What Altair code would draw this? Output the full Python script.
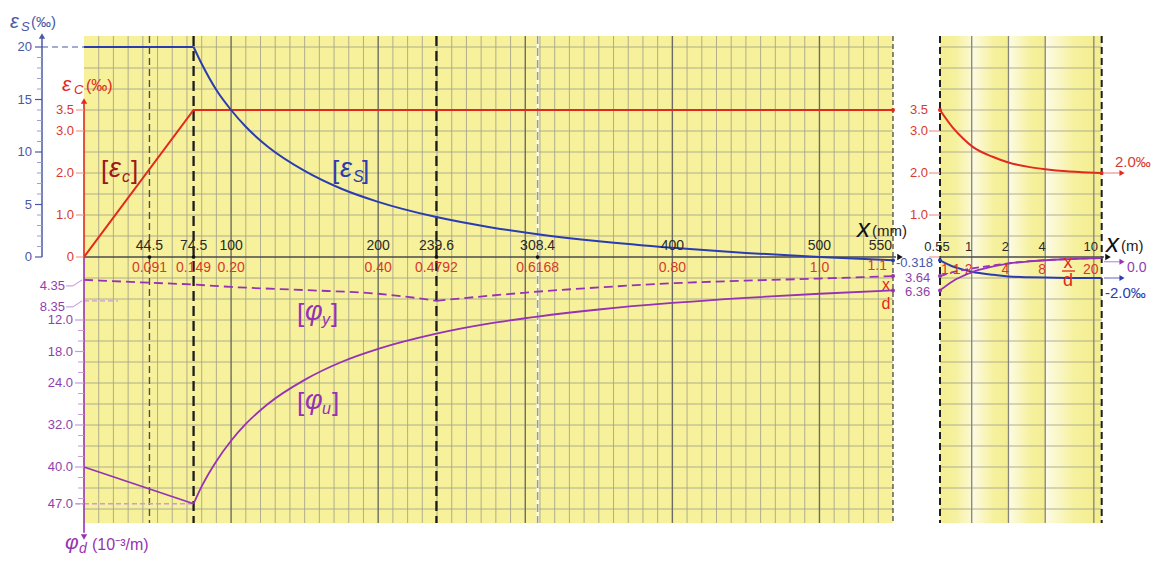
import altair as alt
import pandas as pd

# ---------------- values ----------------
# Left panel (x in mm)
ec_x = [0, 74.5, 550]
ec_v = [0.0, 3.5, 3.5]

es_x_flat = [0, 74.5]
es_v_flat = [20.0, 20.0]
es_x = [74.5, 80, 90, 100, 110, 125, 150, 175, 200, 239.6, 275, 308.4, 350, 400, 450, 500, 550]
es_v = [20.0, 18.4, 15.9, 14.0, 12.4, 10.5, 8.2, 6.5, 5.25, 3.8, 2.86, 2.17, 1.5, 0.88, 0.39, 0.0, -0.318]

phiu_x_lin = [0, 74.5]
phiu_v_lin = [40.0, 47.0]
phiu_x = [74.5, 80, 90, 100, 110, 125, 150, 175, 200, 239.6, 275, 308.4, 350, 400, 450, 500, 550]
phiu_v = [47.0, 43.7, 38.9, 35.0, 31.8, 28.0, 23.4, 20.0, 17.5, 14.6, 12.7, 11.35, 10.0, 8.75, 7.78, 7.0, 6.36]

phiy_x_a = [0, 44.5, 74.5, 100, 150, 200, 220, 239.6]
phiy_v_a = [4.35, 4.9, 5.25, 5.7, 6.3, 7.0, 7.6, 8.35]
phiy_x_b = [239.6, 275, 308.4, 350, 400, 450, 500, 550]
phiy_v_b = [8.35, 7.4, 6.6, 5.8, 5.0, 4.5, 4.1, 3.64]

# Right panel (x in m, logarithmic)
m_x = [0.55, 0.7, 0.85, 1.0, 1.5, 2.0, 3.0, 4.0, 6.0, 8.0, 11.6]
ec_m = [3.5, 3.08, 2.82, 2.64, 2.38, 2.25, 2.14, 2.09, 2.04, 2.02, 2.0]
es_m = [-0.318, -0.9, -1.2, -1.4, -1.7, -1.85, -1.93, -1.96, -1.99, -2.0, -2.0]
phiy_m = [3.64, 2.9, 2.5, 2.2, 1.6, 1.2, 0.8, 0.6, 0.4, 0.3, 0.2]
phiu_m = [6.36, 4.6, 3.6, 2.9, 1.8, 1.25, 0.85, 0.62, 0.42, 0.32, 0.2]

# tick values and labels
x_mm_ticks = [44.5, 74.5, 100, 200, 239.6, 308.4, 400, 500]
x_mm_lbl = ["44.5", "74.5", "100", "200", "239.6", "308.4", "400", "500"]
xd_mm_lbl = ["0.091", "0.149", "0.20", "0.40", "0.4792", "0.6168", "0.80", "1.0"]
x_mm_end = [550]
x_mm_end_lbl = ["550"]
xd_mm_end_lbl = ["1.1"]
marked_x = [44.5, 74.5, 239.6, 308.4]
x_m_ticks = [0.55, 1, 2, 4, 10]
x_m_lbl = ["0.55", "1", "2", "4", "10"]
xd_m_first = [0.55]
xd_m_first_lbl = ["1.1"]
xd_m_ticks = [1, 2, 4, 10]
xd_m_lbl = ["2", "4", "8", "20"]

es_major = [0, 5, 10, 15, 20]
es_major_lbl = ["0", "5", "10", "15", "20"]
es_minor = [1, 2, 3, 4, 6, 7, 8, 9, 11, 12, 13, 14, 16, 17, 18, 19]
ec_major = [0, 1.0, 2.0, 3.0, 3.5]
ec_major_lbl = ["0", "1.0", "2.0", "3.0", "3.5"]
ec_right = [1.0, 2.0, 3.0, 3.5]
ec_right_lbl = ["1.0", "2.0", "3.0", "3.5"]
phi_major = [12, 18, 24, 32, 40, 47]
phi_major_lbl = ["12.0", "18.0", "24.0", "32.0", "40.0", "47.0"]
phi_minor = [14, 16, 20, 22, 26, 28, 30, 34, 36, 38, 42, 44, 46]
phi_special = [4.35, 8.35]
phi_special_lbl = ["4.35", "8.35"]

grid_mm_minor = [v for v in range(10, 550, 10) if v % 100 != 0]
grid_mm_major = [100, 200, 300, 400, 500]
grid_m = [1, 2, 4, 10]
grid_ec = [-6.0, -5.5, -5.0, -4.5, -4.0, -3.5, -3.0, -2.5, -2.0, -1.5, -1.0, -0.5,
           0.5, 1.0, 1.5, 2.0, 2.5, 3.0, 3.5, 4.0, 4.5, 5.0]

# ---------------- layout ----------------
W, H = 809, 487
OX, OY = 84, 36          # plot origin on the page
ZERO = 221               # px from plot top to the x axis
K = 42.0                 # px per 1 permil of eps_c
EC_TOP, EC_BOT = ZERO / K, -(H - ZERO) / K
FONT = "Liberation Sans"

YEL = "#f6f19a"
GRID = "#a3a28c"
GRID_D = "#6c6c64"
RED = "#e2291d"
RED_L = "#d8392e"
RED_P = "#f09a90"
BLUE = "#2b3cb0"
BLUE_L = "#4a58a8"
PURP = "#9632b4"
PURP_L = "#8f3fae"
PURP_P = "#c99bd9"
DRED = "#a1161c"

sx_mm = alt.Scale(domain=[0, 550], nice=False, zero=False)
sx_m = alt.Scale(type="log", domain=[0.55, 11.6], range=[856, 1017.7], nice=False)
sy_ec = alt.Scale(domain=[EC_BOT, EC_TOP], nice=False, zero=False)
sy_es = alt.Scale(domain=[4 * EC_BOT, 4 * EC_TOP], nice=False, zero=False)
sy_phi = alt.Scale(domain=[-8 * EC_TOP, -8 * EC_BOT], reverse=True, nice=False, zero=False)

ONE = pd.DataFrame({"a": [0]})


def px(x):
    return x - OX


def py(y):
    return y - OY


def X(field, sc):
    return alt.X(field, type="quantitative", scale=sc, axis=None)


def Y(field, sc):
    return alt.Y(field, type="quantitative", scale=sc, axis=None)


def curve(xs, vs, xsc, ysc, color, width=1.8, dash=None, interp="linear"):
    df = pd.DataFrame({"x": xs, "v": vs})
    kw = dict(color=color, strokeWidth=width, interpolate=interp)
    if dash:
        kw["strokeDash"] = dash
    return alt.Chart(df).mark_line(**kw).encode(x=X("x", xsc), y=Y("v", ysc))


def dots(xs, vs, xsc, ysc, color, size=16):
    df = pd.DataFrame({"x": xs, "v": vs})
    return alt.Chart(df).mark_circle(color=color, size=size, opacity=1).encode(x=X("x", xsc), y=Y("v", ysc))


def vlines(vals, xsc, color, width=1.0, dash=None, y1=36, y2=523, opacity=1.0):
    kw = dict(color=color, strokeWidth=width, opacity=opacity)
    if dash:
        kw["strokeDash"] = dash
    return alt.Chart(pd.DataFrame({"v": vals})).mark_rule(**kw).encode(
        x=X("v", xsc), y=alt.value(py(y1)), y2=alt.value(py(y2)))


def hlines(vals, ysc, x1, x2, color, width=1.0, dash=None, opacity=1.0):
    kw = dict(color=color, strokeWidth=width, opacity=opacity)
    if dash:
        kw["strokeDash"] = dash
    return alt.Chart(pd.DataFrame({"v": vals})).mark_rule(**kw).encode(
        y=Y("v", ysc), x=alt.value(px(x1)), x2=alt.value(px(x2)))


def ylabels(vals, texts, ysc, x, color, size=13, align="right", dy=0, dx=0):
    df = pd.DataFrame({"v": vals, "t": texts})
    return alt.Chart(df).mark_text(align=align, baseline="middle", dy=dy, dx=dx, font=FONT,
                                   fontSize=size, color=color).encode(
        y=Y("v", ysc), x=alt.value(px(x)), text="t:N")


def xlabels(vals, texts, xsc, y, color, size=14, align="center", dx=0):
    df = pd.DataFrame({"v": vals, "t": texts})
    return alt.Chart(df).mark_text(align=align, baseline="middle", dx=dx, font=FONT,
                                   fontSize=size, color=color).encode(
        x=X("v", xsc), y=alt.value(py(y)), text="t:N")


def label(text, x, y, size=13, color="#222", italic=False, align="left", baseline="alphabetic"):
    return alt.Chart(ONE).mark_text(text=text, fontSize=size, color=color, font=FONT,
                                    fontStyle="italic" if italic else "normal",
                                    align=align, baseline=baseline).encode(
        x=alt.value(px(x)), y=alt.value(py(y)))


def seg(x1, y1, x2, y2, color, width=1.0, dash=None):
    kw = dict(color=color, strokeWidth=width)
    if dash:
        kw["strokeDash"] = dash
    return alt.Chart(ONE).mark_rule(**kw).encode(
        x=alt.value(px(x1)), y=alt.value(py(y1)), x2=alt.value(px(x2)), y2=alt.value(py(y2)))


def head(x, y, shape, color, size=45):
    return alt.Chart(ONE).mark_point(shape=shape, filled=True, color=color, size=size, opacity=1).encode(
        x=alt.value(px(x)), y=alt.value(py(y)))


def harrow(val, ysc, x1, x2, line_color, head_color):
    df = pd.DataFrame({"v": [val]})
    r = alt.Chart(df).mark_rule(color=line_color, strokeWidth=1.3).encode(
        y=Y("v", ysc), x=alt.value(px(x1)), x2=alt.value(px(x2)))
    h = alt.Chart(df).mark_point(shape="triangle-right", filled=True, color=head_color, size=35,
                                 opacity=1).encode(y=Y("v", ysc), x=alt.value(px(x2)))
    return [r, h]


L = []
# ---- backgrounds ----
L.append(alt.Chart(ONE).mark_rect(color=YEL).encode(
    x=alt.value(0), x2=alt.value(W), y=alt.value(0), y2=alt.value(H)))
grad_a = alt.LinearGradient(gradient="linear", x1=0, x2=1, y1=0, y2=0, stops=[
    alt.GradientStop(color="#f4ee92", offset=0), alt.GradientStop(color="#f6f19f", offset=0.5),
    alt.GradientStop(color="#fbf8d2", offset=1)])
grad_b = alt.LinearGradient(gradient="linear", x1=0, x2=1, y1=0, y2=0, stops=[
    alt.GradientStop(color="#fdfbe6", offset=0), alt.GradientStop(color="#f6f19e", offset=0.6),
    alt.GradientStop(color="#f4ee92", offset=1)])
L.append(alt.Chart(pd.DataFrame({"a": [0.55], "b": [1]})).mark_rect(fill=grad_a).encode(
    x=X("a", sx_m), x2="b:Q", y=alt.value(0), y2=alt.value(H)))
L.append(alt.Chart(pd.DataFrame({"a": [1, 2, 4], "b": [2, 4, 10]})).mark_rect(fill=grad_b).encode(
    x=X("a", sx_m), x2="b:Q", y=alt.value(0), y2=alt.value(H)))
L.append(alt.Chart(pd.DataFrame({"a": [10], "b": [11.6]})).mark_rect(color="#f4ee92").encode(
    x=X("a", sx_m), x2="b:Q", y=alt.value(0), y2=alt.value(H)))

# ---- grid ----
L.append(vlines(grid_mm_minor, sx_mm, GRID, 1.0, opacity=0.85))
L.append(hlines(grid_ec, sy_ec, 84, 893, GRID, 1.0, opacity=0.85))
L.append(hlines(grid_ec, sy_ec, 940, 1101.7, GRID, 1.0, opacity=0.85))
L.append(vlines(grid_mm_major, sx_mm, GRID_D, 1.4))
L.append(vlines(grid_m, sx_m, "#85857a", 1.3))

# ---- special vertical dashed lines ----
L.append(vlines([44.5], sx_mm, "#4e4e4e", 1.4, [7, 4]))
L.append(vlines([308.4], sx_mm, "#ffffff", 2.0))
L.append(vlines([308.4], sx_mm, "#9a9a94", 1.5, [8, 4]))
L.append(vlines([74.5, 239.6], sx_mm, "#1c1c1c", 2.3, [10, 5]))
L.append(vlines([550], sx_mm, "#4a4a4a", 1.3, [5, 3]))
L.append(vlines([0.55, 11.6], sx_m, "#1f1f1f", 2.0, [7, 4]))

# ---- x axes ----
L.append(seg(84, 257, 896, 257, "#4a4a4a", 1.6))
L.append(head(900, 257, "triangle-right", "#111", 40))
L.append(seg(940, 257, 1104, 257, "#4a4a4a", 1.6))
L.append(head(1108, 257, "triangle-right", "#111", 40))
L.append(dots(marked_x, [0, 0, 0, 0], sx_mm, sy_ec, "#111", 14))

# ---- left-axis leader lines ----
L.append(hlines([20], sy_es, 42, 84, BLUE_L, 1.2, [6, 4]))
L.append(hlines([8.35], sy_phi, 84, 118, PURP_P, 1.3, [5, 3]))
L.append(alt.Chart(pd.DataFrame({"v": [47.0], "x": [0.0], "x2": [74.5]})).mark_rule(
    color=PURP_P, strokeWidth=1.3, strokeDash=[5, 3]).encode(
    y=Y("v", sy_phi), x=X("x", sx_mm), x2="x2:Q"))
L.append(hlines([47.0], sy_phi, 76, 84, PURP_P, 1.3, [4, 2]))

# ---- curves, left panel ----
L.append(curve(ec_x, ec_v, sx_mm, sy_ec, RED, 2.0))
L.append(curve(es_x_flat, es_v_flat, sx_mm, sy_es, BLUE, 2.0))
L.append(curve(es_x, es_v, sx_mm, sy_es, BLUE, 2.0, interp="monotone"))
L.append(curve(phiy_x_a, phiy_v_a, sx_mm, sy_phi, PURP, 1.8, [9, 5], "monotone"))
L.append(curve(phiy_x_b, phiy_v_b, sx_mm, sy_phi, PURP, 1.8, [9, 5], "monotone"))
L.append(curve(phiu_x_lin, phiu_v_lin, sx_mm, sy_phi, PURP, 1.8))
L.append(curve(phiu_x, phiu_v, sx_mm, sy_phi, PURP, 1.8, interp="monotone"))
L.append(dots([550], [3.5], sx_mm, sy_ec, RED))
L.append(dots([550], [-0.318], sx_mm, sy_es, BLUE))
L.append(dots([550, 550], [3.64, 6.36], sx_mm, sy_phi, PURP))

# ---- curves, right panel ----
L.append(curve(m_x, ec_m, sx_m, sy_ec, RED, 2.0, interp="monotone"))
L.append(curve(m_x, es_m, sx_m, sy_es, BLUE, 2.0, interp="monotone"))
L.append(curve(m_x, phiy_m, sx_m, sy_phi, PURP, 1.8, [7, 4], "monotone"))
L.append(curve(m_x, phiu_m, sx_m, sy_phi, PURP, 1.8, interp="monotone"))
L.append(dots([0.55, 11.6], [3.5, 2.0], sx_m, sy_ec, RED))
L.append(dots([0.55], [-0.318], sx_m, sy_es, BLUE))
L.append(dots([0.55, 0.55], [3.64, 6.36], sx_m, sy_phi, PURP))

# ---- eps_s axis (blue, far left) ----
L.append(alt.Chart(pd.DataFrame({"a": [0.0], "b": [21.0]})).mark_rule(color=BLUE_L, strokeWidth=1.5).encode(
    x=alt.value(px(42)), y=Y("a", sy_es), y2="b:Q"))
L.append(head(42, 36, "triangle-up", BLUE_L, 40))
L.append(hlines(es_major, sy_es, 35, 42, BLUE_L, 1.2))
L.append(hlines(es_minor, sy_es, 37, 42, "#9aa2d0", 1.0))
L.append(ylabels(es_major, es_major_lbl, sy_es, 32, BLUE_L, 13))

# ---- eps_c axis (red) ----
L.append(alt.Chart(pd.DataFrame({"a": [0.0], "b": [3.7]})).mark_rule(color=RED, strokeWidth=1.6).encode(
    x=alt.value(0), y=Y("a", sy_ec), y2="b:Q"))
L.append(head(84, 101, "triangle-up", RED, 40))
L.append(hlines(ec_major, sy_ec, 76, 84, RED_P, 1.2))
L.append(ylabels(ec_major, ec_major_lbl, sy_ec, 74, RED_L, 13))

# ---- phi axis (purple) ----
L.append(alt.Chart(pd.DataFrame({"a": [0.0], "b": [52.5]})).mark_rule(color=PURP, strokeWidth=1.6).encode(
    x=alt.value(0), y=Y("a", sy_phi), y2="b:Q"))
L.append(head(84, 537, "triangle-down", PURP, 40))
L.append(hlines(phi_major, sy_phi, 75, 84, PURP_P, 1.2))
L.append(hlines(phi_minor, sy_phi, 78, 84, PURP_P, 1.0))
L.append(ylabels(phi_major, phi_major_lbl, sy_phi, 73, PURP_L, 13))
L.append(ylabels(phi_special, phi_special_lbl, sy_phi, 65, PURP_L, 13, dy=6))
for v in phi_special:
    d = pd.DataFrame({"v": [v + 1.15], "w": [v]})
    L.append(alt.Chart(d).mark_rule(color=PURP_P, strokeWidth=1.1).encode(
        x=alt.value(px(66)), x2=alt.value(px(73)), y=Y("v", sy_phi)))
    L.append(alt.Chart(d).mark_rule(color=PURP_P, strokeWidth=1.1).encode(
        x=alt.value(px(73)), x2=alt.value(px(82)), y=Y("v", sy_phi), y2="w:Q"))

# ---- axis titles ----
L.append(label("\u03b5", 10, 28, 20, BLUE_L, italic=True))
L.append(label("S", 21, 31, 13, BLUE_L, italic=True))
L.append(label("(\u2030)", 31, 27, 15, BLUE_L))
L.append(label("\u03b5", 62, 91, 21, RED, italic=True))
L.append(label("C", 74, 94, 13, RED, italic=True))
L.append(label("(\u2030)", 86, 91, 16, RED))
L.append(label("\u03c6", 65, 549, 21, PURP, italic=True))
L.append(label("d", 79, 553, 14, PURP, italic=True))
L.append(label("(10\u207b\u00b3/m)", 92, 550, 16, PURP))

# ---- x tick labels ----
L.append(xlabels(x_mm_ticks, x_mm_lbl, sx_mm, 246, "#2a2a2a", 14))
L.append(xlabels(x_mm_ticks, xd_mm_lbl, sx_mm, 268, RED_L, 14))
L.append(xlabels(x_mm_end, x_mm_end_lbl, sx_mm, 246, "#2a2a2a", 14, align="right", dx=-1))
L.append(xlabels(x_mm_end, xd_mm_end_lbl, sx_mm, 266, RED_L, 14, align="right", dx=-6))
L.append(xlabels(x_m_ticks, x_m_lbl, sx_m, 247, "#2a2a2a", 13, dx=-3))
L.append(xlabels(xd_m_first, xd_m_first_lbl, sx_m, 270, RED_L, 14, align="left", dx=1))
L.append(xlabels(xd_m_ticks, xd_m_lbl, sx_m, 270, RED_L, 14, dx=-3))

# ---- x axis names ----
L.append(label("x", 857, 237, 26, "#111", italic=True))
L.append(label("(mm)", 872, 236, 15, "#222"))
L.append(label("x", 1106, 252, 26, "#111", italic=True))
L.append(label("(m)", 1121, 251, 15, "#222"))
L.append(label("x", 886, 290, 16, RED, align="center"))
L.append(label("d", 886, 309, 16, RED, align="center"))
L.append(label("x", 1068, 268, 18, RED, align="center"))
L.append(seg(1062, 271, 1075, 271, RED, 1.3))
L.append(label("d", 1068, 286, 18, RED, align="center"))

# ---- labels between / right of the panels ----
L.append(ylabels(ec_right, ec_right_lbl, sy_ec, 910, RED_L, 13, align="left"))
L.append(hlines([0, 1.0, 2.0, 3.0], sy_ec, 929, 940, RED_P, 1.2))
L.append(ylabels([-0.318], ["-0.318"], sy_es, 896, BLUE_L, 13, align="left", dy=3))
L.append(ylabels([3.64, 6.36], ["3.64", "6.36"], sy_phi, 905, PURP_L, 13, align="left", dy=2))
L += harrow(2.0, sy_ec, 1104, 1122, RED_P, RED)
L += harrow(0.9, sy_phi, 1104, 1122, PURP_P, PURP)
L += harrow(-2.0, sy_es, 1104, 1122, "#7f8ad6", BLUE)
L.append(ylabels([2.0], ["2.0\u2030"], sy_ec, 1115, RED_L, 15, align="left", dy=-11))
L.append(ylabels([0.9], ["0.0"], sy_phi, 1127, PURP_L, 14, align="left", dy=6))
L.append(ylabels([-2.0], ["-2.0\u2030"], sy_es, 1105, BLUE, 15, align="left", dy=15))


# ---- curve names ----
def tag(base, sub, x, y, color, sub_dx=21, close_dx=30):
    return [label("[", x, y, 26, color),
            label(base, x + 8, y - 2, 27, color, italic=True),
            label(sub, x + sub_dx, y + 3, 16, color, italic=True),
            label("]", x + close_dx, y, 26, color)]


L += tag("\u03b5", "c", 101, 179, DRED)
L += tag("\u03b5", "S", 332, 179, BLUE)
L += tag("\u03c6", "y", 297, 322, PURP, 25, 34)
L += tag("\u03c6", "u", 297, 411, PURP, 25, 35)

chart = alt.layer(*L).resolve_scale(x="independent", y="independent").properties(
    width=W, height=H,
    padding={"left": 76, "top": 28, "right": 266, "bottom": 34},
    autosize=alt.AutoSizeParams(type="none"),
    background="white",
).configure_view(stroke=None)

chart.save("out.html", embed_options={"renderer": "svg", "actions": False})
